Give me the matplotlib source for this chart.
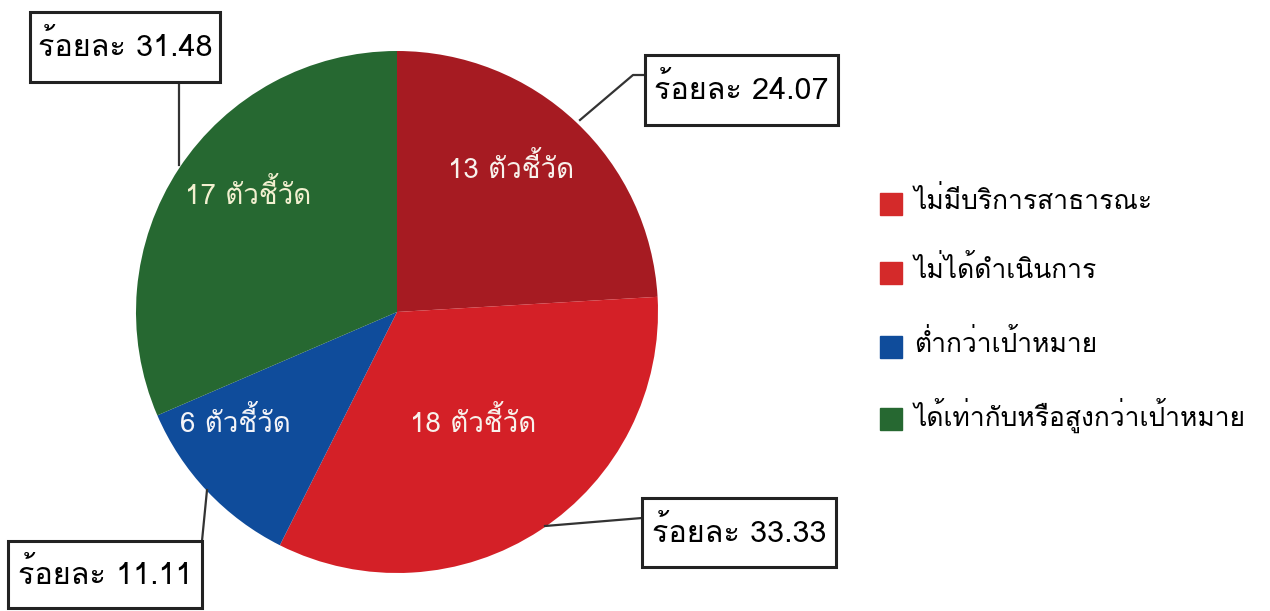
import matplotlib
matplotlib.use("Agg")
import matplotlib.pyplot as plt
from matplotlib.patches import Rectangle

# ---- data ----
categories = ["ไม่มีบริการสาธารณะ", "ไม่ได้ดำเนินการ", "ต่ำกว่าเป้าหมาย",
              "ได้เท่ากับหรือสูงกว่าเป้าหมาย"]
counts = [13, 18, 6, 17]
percents = [24.07, 33.33, 11.11, 31.48]
slice_colors = ["#A61B22", "#D42027", "#0F4C9B", "#266831"]
legend_colors = ["#D42A2A", "#D42A2A", "#0F4C9B", "#266831"]
inner_text_colors = ["#F8F2EC", "#F8F2EC", "#F4F4F8", "#F2F0D0"]

plt.rcParams["font.family"] = ["Loma", "DejaVu Sans"]

W, H = 1270, 611
fig = plt.figure(figsize=(W / 100, H / 100), dpi=100)

# pie axes (pixel coordinates, y up)
pax = fig.add_axes([0, 0, 1, 1])
cx, cy, r = 397, H - 312, 261
wedges, _ = pax.pie(counts, colors=slice_colors, startangle=90, counterclock=False,
                    center=(cx, cy), radius=r, frame=False)
pax.set_xlim(0, W)
pax.set_ylim(0, H)
pax.axis("off")

# overlay axes (pixel coordinates, y down)
ax = fig.add_axes([0, 0, 1, 1])
ax.set_xlim(0, W)
ax.set_ylim(H, 0)
ax.axis("off")
ax.patch.set_alpha(0)

# inside labels
inner_pos = [(511, 168), (473, 422), (235, 422), (248, 195)]
for (x, y), c, tc in zip(inner_pos, counts, inner_text_colors):
    ax.text(x, y, f"{c} ตัวชี้วัด", color=tc, fontsize=20,
            ha="center", va="center")

# callout boxes (x0, y0, x1, y1) with leader lines
boxes = [(645, 55, 838, 125), (642, 498, 836, 567), (8, 541, 202, 608), (30, 12, 220, 82)]
leaders = [
    [(580, 120), (633, 75), (645, 75)],
    [(545, 526), (642, 518)],
    [(207, 490), (202, 541)],
    [(179, 165), (179, 82)],
]
for (x0, y0, x1, y1), p, pts in zip(boxes, percents, leaders):
    xs, ys = zip(*pts)
    ax.plot(xs, ys, color="#333333", lw=1.6)
    ax.add_patch(Rectangle((x0, y0), x1 - x0, y1 - y0, fc="white",
                           ec="#222222", lw=2.2, zorder=3))
    ax.text((x0 + x1) / 2, (y0 + y1) / 2 - 1, f"ร้อยละ {p:.2f}", fontsize=22,
            ha="center", va="center", color="black", zorder=4)

# legend
leg_y = [204, 273, 347, 419]
for yy, lab, col in zip(leg_y, categories, legend_colors):
    ax.add_patch(Rectangle((880, yy - 11), 22, 22, color=col))
    ax.text(914, yy - 4, lab, fontsize=19, ha="left", va="center", color="black")

fig.savefig("out.png", dpi=100)
